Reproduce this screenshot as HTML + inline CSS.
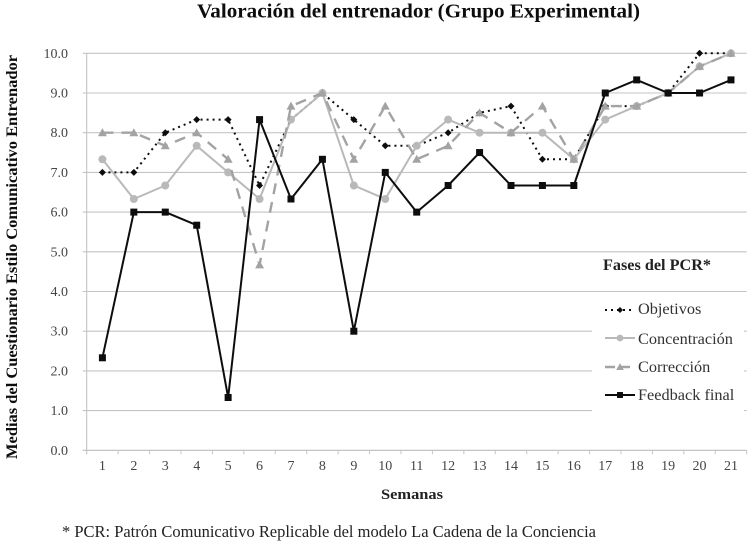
<!DOCTYPE html>
<html lang="es">
<head>
<meta charset="utf-8">
<title>Valoración del entrenador (Grupo Experimental)</title>
<style>
html,body{margin:0;padding:0;background:#fff;width:750px;height:545px;overflow:hidden}
svg{display:block;font-family:"Liberation Serif",serif}
</style>
</head>
<body>
<svg id="chart" width="750" height="545" viewBox="0 0 750 545" xmlns="http://www.w3.org/2000/svg">
<defs><filter id="soft" x="-2%" y="-2%" width="104%" height="104%"><feGaussianBlur stdDeviation="0.3"/></filter></defs>
<g id="root" filter="url(#soft)">
<text x="197" y="17.5" font-size="20" font-weight="bold" fill="#111" textLength="443" lengthAdjust="spacingAndGlyphs">Valoración del entrenador (Grupo Experimental)</text>
<g id="grid"></g>
<g id="axes"></g>
<g id="series"></g>
<rect x="592" y="296" width="152" height="119" fill="#fff"/>
<g>
<text x="603" y="270" font-size="15.5" font-weight="bold" fill="#222" textLength="108" lengthAdjust="spacingAndGlyphs">Fases del PCR*</text>
<g id="legend-items"></g>
</g>
<text transform="translate(17,459) rotate(-90)" font-size="16" font-weight="bold" fill="#111" textLength="404" lengthAdjust="spacingAndGlyphs">Medias del Cuestionario Estilo Comunicativo Entrenador</text>
<text x="381" y="499" font-size="15" font-weight="bold" fill="#222" textLength="62" lengthAdjust="spacingAndGlyphs">Semanas</text>
<text x="62" y="537" font-size="16.5" fill="#222" textLength="534" lengthAdjust="spacingAndGlyphs">* PCR: Patrón Comunicativo Replicable del modelo La Cadena de la Conciencia</text>
</g>
</svg>
<script>
const weeks = ["1","2","3","4","5","6","7","8","9","10","11","12","13","14","15","16","17","18","19","20","21"];
const yTicks = [0,1,2,3,4,5,6,7,8,9,10];
const objetivos = [7,7,8,8.33,8.33,6.67,8.33,9,8.33,7.67,7.67,8,8.5,8.67,7.33,7.33,8.67,8.67,9,10,10];
const concentracion = [7.33,6.33,6.67,7.67,7,6.33,8.33,9,6.67,6.33,7.67,8.33,8,8,8,7.33,8.33,8.67,9,9.67,10];
const correccion = [8,8,7.67,8,7.33,4.67,8.67,9,7.33,8.67,7.33,7.67,8.5,8,8.67,7.33,8.67,8.67,9,9.67,10];
const feedbackFinal = [2.33,6,6,5.67,1.33,8.33,6.33,7.33,3,7,6,6.67,7.5,6.67,6.67,6.67,9,9.33,9,9,9.33];

const NS = "http://www.w3.org/2000/svg";
const plot = {left:86.7, right:746.7, top:53.3, bottom:450.3};
const maxY = 10;
function xBand(i){ return plot.left + (plot.right-plot.left)*i/weeks.length; }
function xPos(i){ return xBand(i+0.5); }
function yPos(v){ return plot.bottom - (plot.bottom-plot.top)*v/maxY; }
function make(tag, attrs, parent){
  const el = document.createElementNS(NS, tag);
  for (const k in attrs) el.setAttribute(k, attrs[k]);
  parent.appendChild(el);
  return el;
}
function drawMarker(kind, x, y, color, parent, scale){
  const k = scale || 1;
  let m;
  if (kind === "diamond") m = make("polygon",{points:`${x},${y-3.5*k} ${x+3.5*k},${y} ${x},${y+3.5*k} ${x-3.5*k},${y}`,fill:color},parent);
  if (kind === "circle") m = make("circle",{cx:x,cy:y,r:4*k,fill:color},parent);
  if (kind === "triangle") m = make("polygon",{points:`${x},${y-4.5*k} ${x+4.5*k},${y+3.5*k} ${x-4.5*k},${y+3.5*k}`,fill:color},parent);
  if (kind === "square") m = make("rect",{x:x-3.5*k,y:y-3.5*k,width:7*k,height:7*k,fill:color},parent);
  
  
  return m;
}

const gridG = document.getElementById("grid");
const axesG = document.getElementById("axes");
const seriesG = document.getElementById("series");
const legendG = document.getElementById("legend-items");

yTicks.forEach(function(t){
  const y = yPos(t);
  const line = make("line",{x1:plot.left-4,x2:plot.right,y1:y,y2:y,stroke:t===0?"#bdbdbd":"#c4c4c4","stroke-width":1.1},gridG);
  
  
  const label = make("text",{x:68,y:y+4.5,"text-anchor":"end","font-size":14,fill:"#444"},axesG);
  label.textContent = t.toFixed(1);
  
  
});
const yAxisLine = make("line",{x1:plot.left,x2:plot.left,y1:plot.top,y2:plot.bottom+4,stroke:"#c4c4c4","stroke-width":1.1},axesG);



weeks.forEach(function(w,i){
  const tick = make("line",{x1:xBand(i+1),x2:xBand(i+1),y1:plot.bottom,y2:plot.bottom+4,stroke:"#c4c4c4","stroke-width":1},axesG);
  
  
  const label = make("text",{x:xPos(i),y:470,"text-anchor":"middle","font-size":14,fill:"#444"},axesG);
  label.textContent = w;
  
  
});

const seriesList = [
  {key:"objetivos",label:"Objetivos",values:objetivos,color:"#111",width:2,dash:"2 4",marker:"diamond",legendY:310,textY:314},
  {key:"concentracion",label:"Concentración",values:concentracion,color:"#b9b9b9",width:2,dash:"",marker:"circle",legendY:338,textY:344},
  {key:"correccion",label:"Corrección",values:correccion,color:"#a3a3a3",width:2.4,dash:"11 8",marker:"triangle",legendY:367,textY:372},
  {key:"feedback",label:"Feedback final",values:feedbackFinal,color:"#0c0c0c",width:2,dash:"",marker:"square",legendY:395,textY:400}
];

seriesList.forEach(function(s){
  const g = make("g",{},seriesG);
  
  
  const pts = s.values.map(function(v,i){ return xPos(i)+","+yPos(v); }).join(" ");
  const line = make("polyline",{points:pts,fill:"none",stroke:s.color,"stroke-width":s.width,"stroke-dasharray":s.dash,"stroke-linejoin":"round"},g);
  
  
  s.values.forEach(function(v,i){ drawMarker(s.marker,xPos(i),yPos(v),s.color,g); });

  const item = make("g",{},legendG);
  
  
  const sample = make("line",{x1:605,x2:635,y1:s.legendY,y2:s.legendY,stroke:s.color,"stroke-width":s.width,"stroke-dasharray":s.key==="correccion"?"10 5":s.dash},item);
  
  
  const marker = drawMarker(s.marker,620,s.legendY,s.color,item,0.85);
  
  const text = make("text",{x:638,y:s.textY,"font-size":16.3,fill:"#333"},item);
  text.textContent = s.label;
  
  
});
</script>
</body>
</html>
